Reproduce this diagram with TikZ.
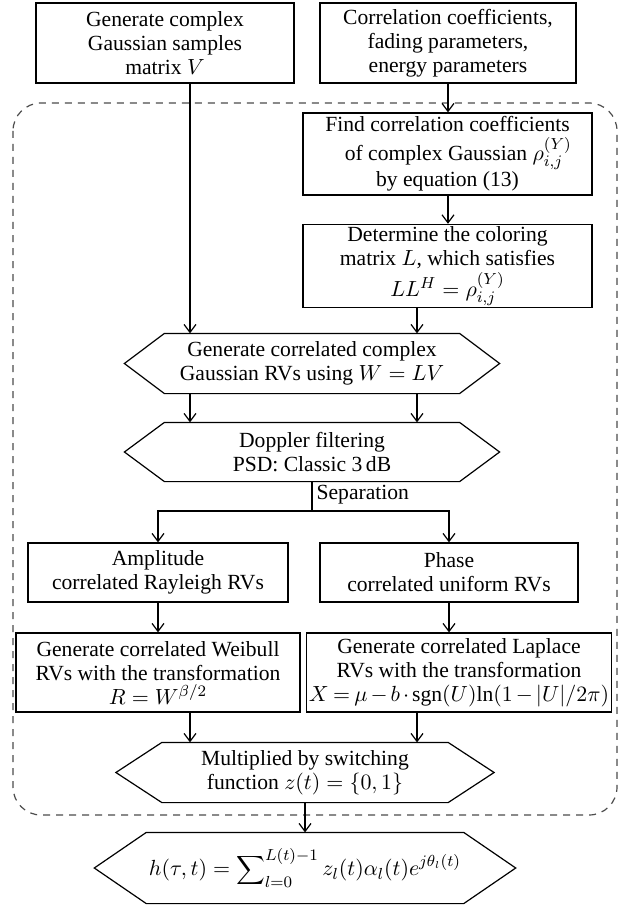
\documentclass[tikz,border=0pt]{standalone}
\usepackage{fontspec}
\setmainfont{Liberation Serif}
\usetikzlibrary{arrows.meta}

\begin{document}
\begin{tikzpicture}[x=0.5pt, y=-0.5pt, line width=0.6pt,
    box/.style={draw, align=center, inner sep=1pt, font=\fontsize{10.8}{12}\selectfont},
    flat/.style={align=center, inner sep=1pt, font=\fontsize{10.8}{12}\selectfont},
    arr/.style={-{Straight Barb[length=4pt, width=6pt]}},
    frame/.style={draw=black!70, dash pattern=on 3.5pt off 3pt, rounded corners=14pt}]
  \useasboundingbox (0,0) rectangle (632,909);

  \draw[frame] (13,103) rectangle (617,815);

  \coordinate (lft) at (190,0);
  \coordinate (rgt) at (417,0);

  \node[box, minimum width=129pt, minimum height=40pt] (samp) at (165,43)
    {Generate complex\\ Gaussian samples\\ matrix $V$};
  \node[box, minimum width=128pt, minimum height=40pt] (par) at (448,43)
    {Correlation coefficients,\\ fading parameters,\\ energy parameters};
  \node[box, minimum width=144.5pt, minimum height=41pt] (find) at (447.5,154)
    {Find correlation coefficients\\[2.5pt] \quad of complex Gaussian $\rho_{i,j}^{(Y)}$\\ by equation (13)};
  \node[box, minimum width=144.5pt, minimum height=40pt] (det) at (447.5,266)
    {Determine the coloring\\ matrix $L$, which satisfies\\[1pt] $LL^{H} = \rho_{i,j}^{(Y)}$};

  \node[flat, minimum width=147pt, minimum height=29.5pt] (gen) at (312,363.5)
    {Generate correlated complex\\ Gaussian RVs using $W = LV$};
  \node[flat, minimum width=147pt, minimum height=29pt] (dop) at (312,452)
    {Doppler filtering\\ PSD: Classic 3\,dB};

  \node[box, minimum width=130pt, minimum height=29.5pt] (amp) at (158,572.5)
    {Amplitude\\ correlated Rayleigh RVs};
  \node[box, minimum width=129pt, minimum height=29.5pt] (pha) at (449,572.5)
    {Phase\\ correlated uniform RVs};
  \node[box, minimum width=142pt, minimum height=39.5pt] (wei) at (158,672.5)
    {Generate correlated Weibull\\ RVs with the transformation\\ $R = W^{\beta/2}$};
  \node[box, minimum width=151pt, minimum height=39.5pt] (lap) at (459,672.5)
    {Generate correlated Laplace\\ RVs with the transformation\\
     \medmuskip=2.5mu\thickmuskip=3.5mu $X = \mu - b\cdot \mathrm{sgn}(U)\mathrm{ln}(1-|U|/2\pi)$};

  \node[flat, minimum width=142.5pt, minimum height=29.5pt] (mul) at (305,772.5)
    {Multiplied by switching\\ function $z(t) = \{0, 1\}$};
  \node[flat, minimum width=148pt, minimum height=35pt] (chan) at (305,868)
    {$h(\tau,t) = \displaystyle\sum\nolimits_{l=0}^{L(t)-1} z_l(t)\alpha_l(t)e^{j\theta_l(t)}$};

  % hexagon outlines
  \foreach \n/\d in {gen/20pt, dop/20pt, mul/23pt, chan/26pt}
    \draw (\n.north west) -- (\n.north east) -- ([xshift=\d]\n.east)
      -- (\n.south east) -- (\n.south west) -- ([xshift=-\d]\n.west) -- cycle;

  \draw[arr] (samp.south -| lft) -- (gen.north -| lft);
  \draw[arr] (par.south) -- (par.south |- find.north);
  \draw[arr] (find.south -| par) -- (det.north -| par);
  \draw[arr] (det.south -| rgt) -- (gen.north -| rgt);
  \draw[arr] (gen.south -| lft) -- (dop.north -| lft);
  \draw[arr] (gen.south -| rgt) -- (dop.north -| rgt);

  \coordinate (split) at (312,511);
  \draw (dop.south) -- (split)
    node[pos=0.45, right, inner sep=2pt, font=\fontsize{10.8}{12}\selectfont] {Separation};
  \draw[arr] (split) -| (amp.north);
  \draw[arr] (split) -| (pha.north);

  \draw[arr] (amp) -- (wei);
  \draw[arr] (pha.south) -- (pha.south |- lap.north);
  \draw[arr] (wei.south -| lft) -- (mul.north -| lft);
  \draw[arr] (lap.south -| rgt) -- (mul.north -| rgt);
  \draw[arr] (mul.south) -- (chan.north);
\end{tikzpicture}
\end{document}
